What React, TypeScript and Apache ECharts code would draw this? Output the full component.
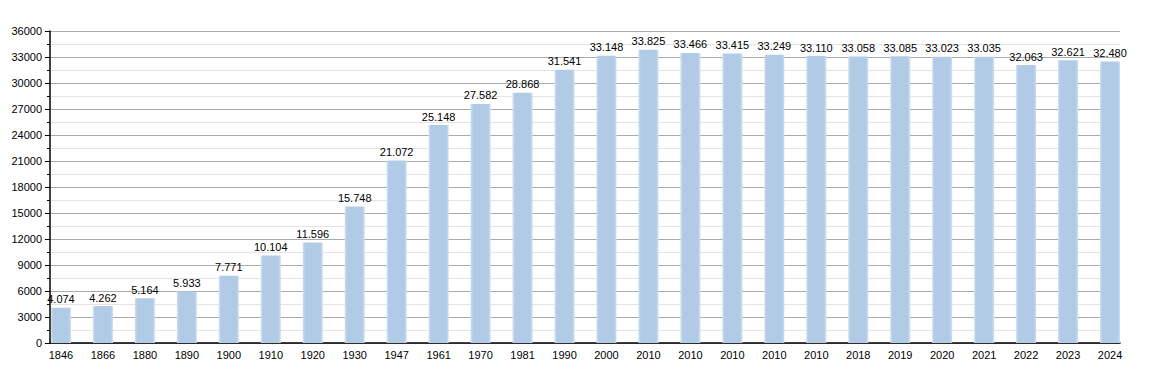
import React, { useEffect, useRef } from "react";
import * as echarts from "echarts";

const years = ["1846","1866","1880","1890","1900","1910","1920","1930","1947","1961","1970","1981","1990","2000","2010","2010","2010","2010","2010","2018","2019","2020","2021","2022","2023","2024"];
const population = [4074,4262,5164,5933,7771,10104,11596,15748,21072,25148,27582,28868,31541,33148,33825,33466,33415,33249,33110,33058,33085,33023,33035,32063,32621,32480];
const yTicks = { min: 0, max: 36000, interval: 3000 };

const fmt = (v: number) => {
  const s = String(Math.round(v));
  return s.replace(/\B(?=(\d{3})+(?!\d))/g, ".");
};

export default function App() {
  const ref = useRef<HTMLDivElement>(null);
  useEffect(() => {
    if (!ref.current) return;
    const chart = echarts.init(ref.current, null, { renderer: "svg" });
    const font = "Liberation Sans, Arial, sans-serif";
    chart.setOption({
      animation: false,
      grid: [
        { left: 50, right: 30, top: 31, bottom: 30 },
        { left: 40, right: 19, top: 31, bottom: 30 },
      ],
      xAxis: [
        {
          gridIndex: 0, type: "category", data: years, boundaryGap: true,
          axisLine: { show: true, lineStyle: { color: "#000", width: 1.5 } },
          axisTick: { show: false }, axisLabel: { show: false },
        },
        {
          gridIndex: 1, type: "category", data: years,
          axisLine: { show: false }, axisTick: { show: false },
          axisLabel: { color: "#000", fontSize: 11, fontFamily: font, margin: 6, interval: 0 },
        },
      ],
      yAxis: [
        {
          gridIndex: 0, type: "value", ...yTicks,
          axisLine: { show: true, lineStyle: { color: "#000", width: 1.5 } },
          axisTick: { show: true, length: 5, lineStyle: { color: "#000" } },
          minorTick: { show: true, splitNumber: 2, length: 3, lineStyle: { color: "#000" } },
          axisLabel: { color: "#000", fontSize: 11, fontFamily: font, margin: 8, formatter: (v: number) => String(v) },
          splitLine: { show: true, lineStyle: { color: "#aaa", width: 1 } },
          minorSplitLine: { show: true, lineStyle: { color: "#e4e4e4", width: 1 } },
        },
        {
          gridIndex: 1, type: "value", ...yTicks, show: false,
          splitLine: { show: false },
        },
      ],
      series: [
        {
          type: "bar", xAxisIndex: 1, yAxisIndex: 1, data: population,
          barWidth: 20,
          itemStyle: {
            color: new echarts.graphic.LinearGradient(0, 0, 1, 0, [
              { offset: 0, color: "#cfdff0" },
              { offset: 0.12, color: "#b1cbe6" },
              { offset: 0.88, color: "#b1cbe6" },
              { offset: 1, color: "#cfdff0" },
            ]),
          },
          label: {
            show: true, position: "top", distance: 3, color: "#000",
            fontSize: 11, fontFamily: font,
            formatter: (p: any) => fmt(p.value),
          },
        },
      ],
    });
    return () => chart.dispose();
  }, []);
  return <div ref={ref} style={{ width: 1150, height: 373, position: "absolute", left: 0, top: 0 }} />;
}
